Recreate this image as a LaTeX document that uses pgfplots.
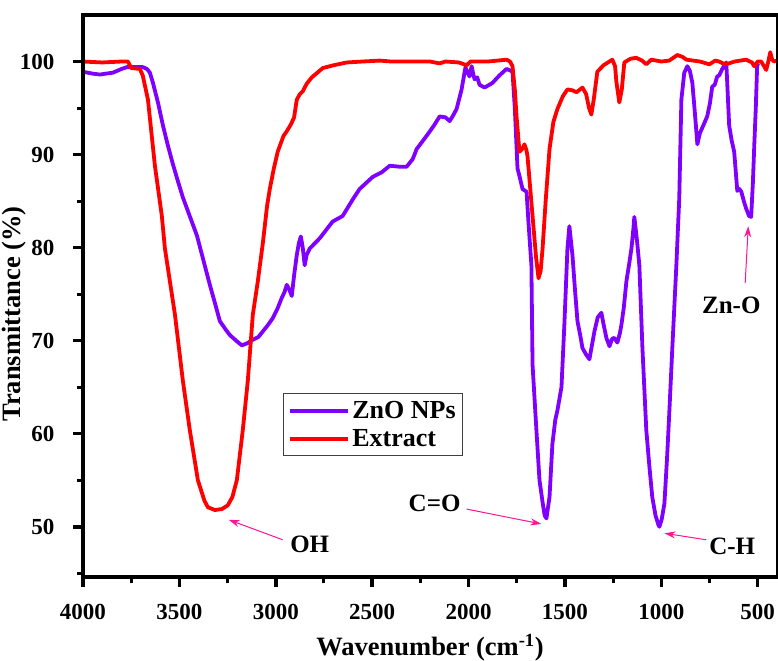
\documentclass[border=0pt]{standalone}
\usepackage{pgfplots}
\pgfplotsset{compat=1.18}
\usepackage{fontspec}
\setmainfont{Liberation Serif}
\usetikzlibrary{arrows.meta}
\definecolor{zno}{RGB}{128,0,255}
\definecolor{ext}{RGB}{255,0,0}
\definecolor{arr}{RGB}{255,20,147}
\begin{document}
\begin{tikzpicture}
\begin{axis}[
  scale only axis, width=694pt, height=562pt, clip=false,
  x dir=reverse, xmin=400, xmax=4000, ymin=44.6, ymax=105,
  xtick={500,1000,...,4000}, ytick={50,60,...,100},
  minor x tick num=1, minor y tick num=1,
  tick align=outside, xtick pos=bottom, ytick pos=left,
  major tick length=10pt, minor tick length=6pt,
  every major tick/.append style={line width=3.5pt, black},
  every minor tick/.append style={line width=3pt, black},
  axis line style={line width=1pt},
  /pgf/number format/1000 sep={},
  /pgf/number format/assume math mode=true,
  ticklabel style={font=\fontsize{23}{26}\selectfont\bfseries},
  xticklabel style={yshift=-14pt},
  yticklabel style={xshift=-15pt},
  xlabel={Wavenumber (cm\textsuperscript{-1})},
  ylabel={Transmittance (\%)},
  label style={font=\fontsize{26.5}{30}\selectfont\bfseries},
  xlabel style={yshift=-7pt},
  ylabel style={yshift=-13pt, xshift=-18pt},
  legend style={at={(0.288,0.327)}, anchor=north west, draw=darkgray, line width=1pt,
    font=\fontsize{26}{29}\selectfont\bfseries, inner xsep=5pt, inner ysep=6pt, row sep=5pt},
  legend cell align=left,
  legend image code/.code={\draw[#1, line width=4pt] (0pt,0pt) -- (58pt,0pt);},
]
\addplot[zno, line width=3.8pt, line join=round] coordinates {
(4000,98.9)(3950,98.7)(3912,98.6)(3880,98.7)(3845,98.8)(3800,99.2)(3772,99.4)(3720,99.4)(3690,99.4)(3668,99.2)(3653,98.8)(3637,97.7)(3610,95.5)(3585,93.1)(3560,91.0)(3534,89.0)(3510,87.3)(3482,85.4)(3409,81.3)(3342,76.0)(3315,74.0)(3290,72.1)(3260,71.2)(3238,70.6)(3200,69.9)(3176,69.5)(3150,69.7)(3119,70.1)(3090,70.4)(3067,71.0)(3040,71.7)(3016,72.4)(2990,73.5)(2969,74.6)(2955,75.2)(2943,76.0)(2930,75.5)(2917,74.8)(2905,77)(2891,79.2)(2880,80.5)(2870,81.2)(2860,80.0)(2850,78.1)(2840,79.2)(2824,79.9)(2772,81.0)(2720,82.4)(2705,82.8)(2653,83.4)(2600,85.2)(2565,86.3)(2497,87.6)(2450,88.1)(2409,88.8)(2360,88.7)(2321,88.7)(2290,89.5)(2269,90.6)(2218,92.0)(2180,93.1)(2150,94.1)(2120,94.0)(2098,93.6)(2080,94.2)(2062,94.9)(2036,97.0)(2016,99.4)(2005,98.8)(1995,98.4)(1984,99.5)(1975,98.6)(1969,98.1)(1955,98.3)(1943,97.5)(1917,97.2)(1876,97.7)(1840,98.5)(1803,99.2)(1780,99.0)(1772,98.9)(1760,95)(1746,88.5)(1736,87.7)(1720,86.3)(1699,86.0)(1690,83)(1674,78.1)(1668,67.4)(1648,60.4)(1632,55.0)(1615,52.5)(1605,51.2)(1596,50.9)(1580,53.2)(1565,58.9)(1550,61.5)(1539,62.5)(1518,65.0)(1503,71.7)(1487,79.9)(1477,82.3)(1461,79.2)(1448,75.5)(1435,72.1)(1420,70.5)(1409,69.2)(1390,68.5)(1373,68.0)(1360,69.5)(1347,71.0)(1330,72.5)(1311,73.0)(1300,71.8)(1285,70.3)(1269,69.4)(1255,70.2)(1244,70.3)(1228,69.8)(1215,70.8)(1207,71.7)(1195,73.5)(1181,76.4)(1165,78.5)(1155,79.9)(1145,82.0)(1140,83.3)(1125,80.5)(1114,78.1)(1098,69.2)(1078,60.4)(1062,56.5)(1047,53.2)(1030,51.2)(1015,50.2)(1010,50.0)(998,50.8)(984,52.5)(970,57.5)(959,62.1)(943,69.2)(922,78.1)(907,85.3)(896,95.9)(881,98.8)(865,99.5)(852,99.0)(839,97.7)(826,94.5)(813,91.1)(800,92.3)(787,92.9)(762,94.1)(748,95.5)(736,97.3)(723,97.5)(710,98.4)(700,98.5)(684,99.2)(663,99.9)(648,93.1)(635,91.5)(622,90.3)(606,86.1)(595,86.3)(585,86.0)(572,85.0)(560,84.2)(545,83.4)(534,83.3)(525,87)(518,90.9)(510,95)(503,99.5)(498,99.8)
};
\addlegendentry{ZnO NPs}
\addplot[ext, line width=3.8pt, line join=round] coordinates {
(4000,100.0)(3900,99.9)(3800,100.0)(3767,100.0)(3750,99.3)(3705,99.2)(3690,98.5)(3663,95.9)(3627,88.8)(3591,83.4)(3575,79.9)(3523,72.8)(3482,65.7)(3446,60.4)(3404,55.0)(3370,52.8)(3352,52.1)(3316,51.8)(3280,51.9)(3249,52.3)(3225,53.2)(3202,55.0)(3171,60.4)(3145,65.7)(3119,72.8)(3093,76.4)(3067,80.5)(3045,84.5)(3031,86.3)(3010,88.5)(2990,90.3)(2960,92.0)(2943,92.5)(2920,93.3)(2905,94.0)(2891,95.9)(2875,96.5)(2860,96.8)(2840,97.6)(2813,98.3)(2756,99.3)(2700,99.6)(2632,99.9)(2550,100.0)(2461,100.1)(2400,100.0)(2300,100.0)(2200,100.0)(2150,99.8)(2120,100.0)(2050,99.9)(2010,99.6)(1990,100.0)(1900,100.0)(1850,100.1)(1803,100.2)(1785,100.0)(1772,99.5)(1760,97)(1751,94.1)(1736,90.3)(1722,90.6)(1710,91.1)(1700,90.5)(1694,89.8)(1668,83.4)(1650,79)(1637,76.7)(1626,77.5)(1616,79.9)(1600,85)(1580,90.6)(1560,93.5)(1539,94.9)(1510,96.3)(1487,97.0)(1460,96.9)(1440,96.7)(1409,97.2)(1390,96.5)(1375,95)(1363,94.3)(1350,96)(1332,98.9)(1300,99.6)(1254,100.2)(1240,99.5)(1233,97.8)(1218,95.6)(1205,97)(1192,99.9)(1160,100.3)(1130,100.4)(1100,100.1)(1078,99.7)(1052,100.2)(1000,100.0)(959,100.1)(917,100.7)(890,100.5)(870,100.2)(800,100.0)(751,99.7)(720,100.1)(700,100)(680,99.8)(663,99.7)(620,100.0)(560,100.2)(530,99.9)(518,99.5)(500,100.0)(482,100.0)(456,99.1)(445,100)(435,101)(425,100.2)(415,100)(400,100.1)
};
\addlegendentry{Extract}
% frame and ticks (drawn explicitly so they are thick)
\draw[line width=4pt, line cap=rect, line join=miter] (axis cs:400,44.6) -- (axis cs:4000,44.6) -- (axis cs:4000,105) -- (axis cs:400,105);
\draw[line width=2pt] (axis cs:400,44.6) -- (axis cs:400,105);
\pgfplotsinvokeforeach{500,1000,1500,2000,2500,3000,3500,4000}{\draw[line width=3.5pt] (axis cs:#1,44.6) -- ++(0pt,-10pt);}
\pgfplotsinvokeforeach{750,1250,1750,2250,2750,3250,3750}{\draw[line width=3pt] (axis cs:#1,44.6) -- ++(0pt,-6pt);}
\pgfplotsinvokeforeach{50,60,70,80,90,100}{\draw[line width=3.5pt] (axis cs:4000,#1) -- ++(-10pt,0pt);}
\pgfplotsinvokeforeach{45,55,65,75,85,95}{\draw[line width=3pt] (axis cs:4000,#1) -- ++(-6pt,0pt);}
\begin{scope}[font=\fontsize{25}{28}\selectfont\bfseries]
\node at (axis cs:2824,48.1) {OH};
\node at (axis cs:2176,52.5) {C=O};
\node at (axis cs:632,47.9) {C-H};
\node at (axis cs:637,73.8) {Zn-O};
\end{scope}
\begin{scope}[arr, line width=1pt, -{Stealth[length=11pt,width=7pt]}]
\draw (axis cs:2964,48.6) -- (axis cs:3244,50.75);
\draw (axis cs:2010,51.9) -- (axis cs:1622,50.3);
\draw (axis cs:767,48.6) -- (axis cs:984,49.3);
\draw (axis cs:565,76.2) -- (axis cs:549,82.3);
\end{scope}
\end{axis}
\pgfresetboundingbox
\path[use as bounding box] ([xshift=-83pt,yshift=-83pt]current axis.south west) rectangle ([xshift=1pt,yshift=15pt]current axis.north east);
\end{tikzpicture}
\end{document}
